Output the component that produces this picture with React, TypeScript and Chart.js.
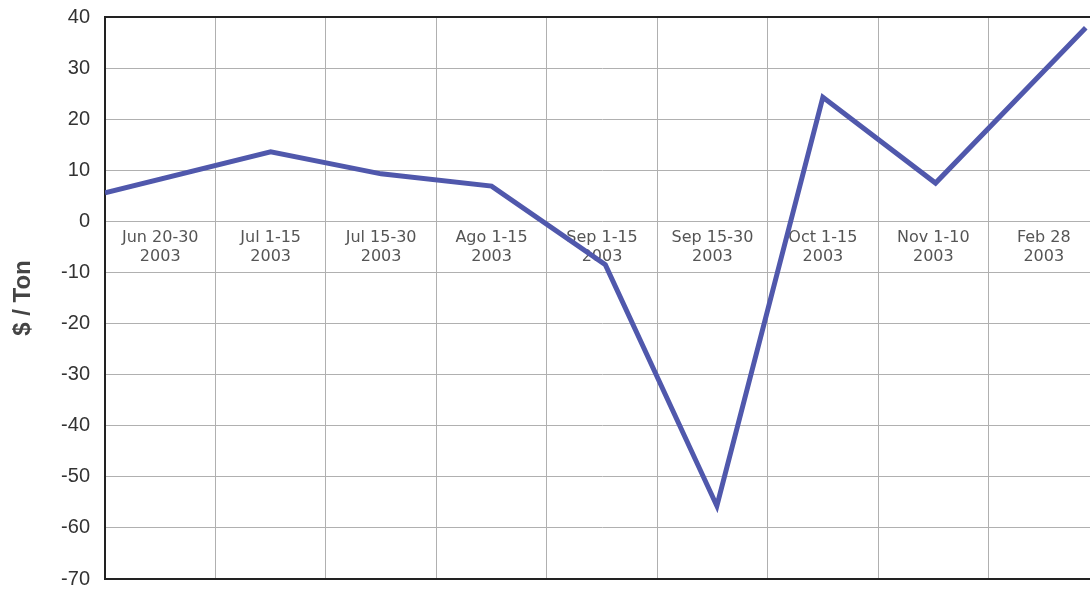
import React, { useEffect, useRef } from "react";
import { Chart, registerables } from "chart.js";

Chart.register(...registerables);

const categoryLabels: string[][] = [
  ["Jun 20-30", "2003"],
  ["Jul 1-15", "2003"],
  ["Jul 15-30", "2003"],
  ["Ago 1-15", "2003"],
  ["Sep 1-15", "2003"],
  ["Sep 15-30", "2003"],
  ["Oct 1-15", "2003"],
  ["Nov 1-10", "2003"],
  ["Feb 28", "2003"],
];

// position of each point along the category axis (category index units)
const pointPositions = [-0.5, 1, 2, 3, 4.03, 5.04, 6, 7.02, 8.38];
const priceValues = [5.6, 13.6, 9.3, 6.9, -8.5, -55.7, 24.3, 7.5, 37.9];

const yMin = -70;
const yMax = 40;
const yStep = 10;
const yTitle = "$ / Ton";

export default function App() {
  const canvasRef = useRef<HTMLCanvasElement | null>(null);

  useEffect(() => {
    const canvas = canvasRef.current;
    if (!canvas) return;
    const points = pointPositions.map((x, i) => ({ x, y: priceValues[i] }));
    const zeroPad = (scale: any) => {
      scale.paddingTop = 0;
      scale.paddingBottom = 0;
      scale.paddingLeft = 0;
      scale.paddingRight = 0;
    };
    const chart = new Chart(canvas, {
      type: "line",
      data: {
        labels: categoryLabels as any,
        datasets: [
          {
            data: points as any,
            xAxisID: "x2",
            yAxisID: "y",
            borderColor: "rgb(80, 88, 172)",
            borderWidth: 5,
            pointRadius: 0,
            tension: 0,
            fill: false,
            borderJoinStyle: "miter",
          },
        ],
      },
      options: {
        responsive: false,
        animation: false,
        layout: { padding: { left: 0, right: 6, top: 17, bottom: 12 } },
        plugins: {
          legend: { display: false },
          tooltip: { enabled: false },
        },
        scales: {
          x: {
            type: "category",
            labels: categoryLabels as any,
            position: { y: 0 } as any,
            offset: true,
            afterFit: zeroPad,
            grid: {
              offset: true,
              color: "#b0b0b0",
              lineWidth: 1,
              drawTicks: false,
            },
            border: { display: false },
            ticks: {
              autoSkip: false,
              maxRotation: 0,
              minRotation: 0,
              padding: 7,
              color: "#555",
              font: { family: "DejaVu Sans", size: 16, lineHeight: 1.2 },
            },
          },
          x2: {
            type: "linear",
            display: false,
            min: -0.5,
            max: 8.5,
          },
          y: {
            type: "linear",
            min: yMin,
            max: yMax,
            afterFit: (scale: any) => {
              scale.width = 105;
              zeroPad(scale);
            },
            ticks: {
              stepSize: yStep,
              padding: 15,
              color: "#333",
              font: { family: "Liberation Sans", size: 20 },
            },
            grid: {
              drawTicks: false,
              color: (ctx: any) =>
                ctx.tick && (ctx.tick.value === yMax || ctx.tick.value === yMin)
                  ? "#222"
                  : "#b0b0b0",
              lineWidth: (ctx: any) =>
                ctx.tick && (ctx.tick.value === yMax || ctx.tick.value === yMin) ? 2 : 1,
            },
            border: { display: true, color: "#222", width: 2 },
            title: {
              display: true,
              text: yTitle,
              color: "#444",
              padding: { top: 9, bottom: 0 },
              font: { family: "Liberation Sans", size: 24, weight: "bold" },
            },
          },
        },
      },
    });
    return () => chart.destroy();
  }, []);

  return (
    <div
      style={{
        position: "absolute",
        left: 0,
        top: 0,
        width: 1090,
        height: 591,
        overflow: "hidden",
        background: "#fff",
      }}
    >
      <canvas ref={canvasRef} width={1105} height={591} style={{ display: "block" }} />
    </div>
  );
}
